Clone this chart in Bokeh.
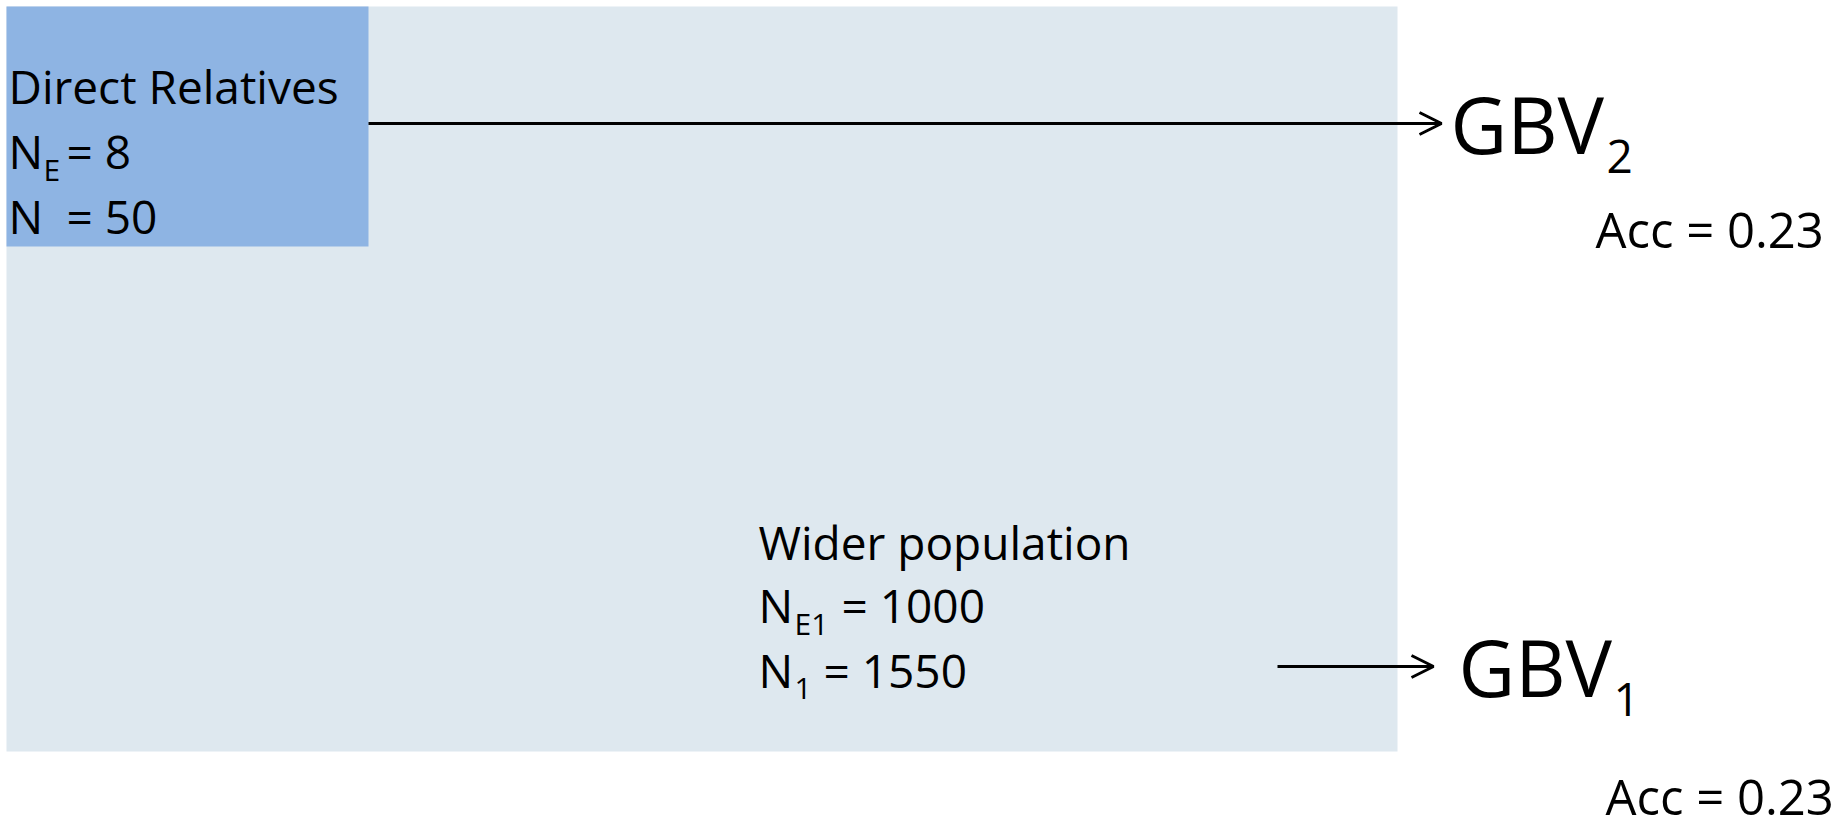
from bokeh.plotting import figure
from bokeh.models import Range1d, Arrow, OpenHead
from bokeh.core.properties import value
from bokeh.embed import file_html
from bokeh.resources import INLINE

# ---- data (labels and numbers of the diagram) ----
group_names = ["Direct Relatives", "Wider population"]
ne_subscripts = ["E", "E1"]
ne_values = [8, 1000]
n_subscripts = ["", "1"]
n_values = [50, 1550]
gbv_subscripts = ["2", "1"]
acc_values = [0.23, 0.23]

# ---- layout (pixel positions of the sketch) ----
W, H = 1837, 821
FONT = value("Open Sans")
LIGHT = "#dee8ef"
DARK = "#8eb4e3"
SHIFT = 0.40  # svg text sits this fraction of font size below the anchor

p = figure(width=W, height=H, output_backend="svg", toolbar_location=None,
           x_range=Range1d(0, W), y_range=Range1d(H, 0),
           min_border=0, outline_line_color=None, background_fill_color="white")
p.axis.visible = False
p.grid.visible = False

# boxes: wider population (outer), direct relatives (inner)
p.quad(left=[6], right=[1397], top=[6], bottom=[751], fill_color=LIGHT, line_color=None)
p.quad(left=[6], right=[368], top=[6], bottom=[246], fill_color=DARK, line_color=None)

def txt(x, base, s, size):
    p.text(x=[x], y=[base - SHIFT * size], text=[s], text_font=FONT,
           text_font_size=f"{size}px", text_baseline="alphabetic",
           text_align="left", text_color="black")

big = 46
small = 30

# Direct relatives
x0, b0 = 8, 104
txt(x0, b0, group_names[0], big)
txt(x0, b0 + 65, "N", big)
txt(43, b0 + 77, ne_subscripts[0], small)
txt(66, b0 + 65, f"= {ne_values[0]}", big)
txt(x0, b0 + 130, "N" + (n_subscripts[0] or ""), big)
txt(66, b0 + 130, f"= {n_values[0]}", big)

# Wider population
x1, b1 = 758, 560
txt(x1, b1, group_names[1], big)
txt(x1, b1 + 63, "N", big)
txt(794, b1 + 75, ne_subscripts[1], small)
txt(841, b1 + 63, f"= {ne_values[1]}", big)
txt(x1, b1 + 128, "N", big)
txt(794, b1 + 140, n_subscripts[1], small)
txt(823, b1 + 128, f"=  {n_values[1]}", big)

# arrows
for (xa, xb, y) in [(368, 1441, 123), (1277, 1433, 666)]:
    p.add_layout(Arrow(x_start=xa, y_start=y, x_end=xb, y_end=y,
                       line_width=3, line_color="black",
                       end=OpenHead(size=22, line_width=3, line_color="black")))

# GBV labels
gbv_pos = [dict(x=1450, base=155, sx=1606, sbase=174, ax=1595, abase=248),
           dict(x=1458, base=698, sx=1613, sbase=717, ax=1605, abase=815)]
for g, sub, acc in zip(gbv_pos, gbv_subscripts, acc_values):
    txt(g["x"], g["base"], "GBV", 78)
    txt(g["sx"], g["sbase"], sub, 46)
    txt(g["ax"], g["abase"], f"Acc = {acc:.2f}", 49)

open("out.html", "w").write(file_html(p, INLINE))
